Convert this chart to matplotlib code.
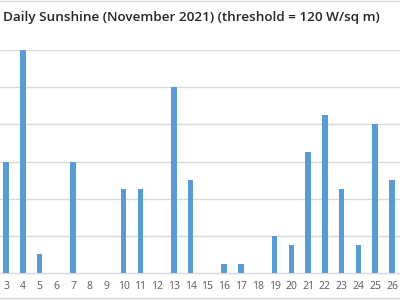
import matplotlib
matplotlib.use("Agg")
import matplotlib.pyplot as plt
from matplotlib.lines import Line2D

# Sunshine hours per day (days visible in the crop)
days = [3, 4, 5, 6, 7, 8, 9, 10, 11, 12, 13, 14, 15, 16, 17, 18, 19, 20, 21, 22, 23, 24, 25, 26]
hours = [3, 6, 0.5, 0, 3, 0, 0, 2.25, 2.25, 0, 5, 2.5, 0, 0.25, 0.25, 0, 1, 0.75, 3.25, 4.25, 2.25, 0.75, 4, 2.5]
labels = [str(d) for d in days]

title = "Daily Sunshine (November 2021) (threshold = 120 W/sq m)"

bar_color = "#5b9bd5"
grid_color = "#d9d9d9"
text_color = "#595959"

fig = plt.figure(figsize=(4, 3), dpi=100)
ax = fig.add_axes([0, 27 / 300, 1, 223 / 300])

ax.bar(days, hours, width=0.32, color=bar_color, zorder=3)

ax.set_xlim(2.64, 26.48)
ax.set_ylim(0, 6)
ax.set_yticks(range(1, 7))
ax.yaxis.grid(True, color=grid_color, linewidth=1)
ax.tick_params(axis="y", left=False, labelleft=False)
ax.set_xticks(days)
ax.set_xticklabels(labels, fontsize=7.5, color=text_color, family="Open Sans")
ax.tick_params(axis="x", length=0, pad=6)

for side in ["top", "left", "right"]:
    ax.spines[side].set_visible(False)
ax.spines["bottom"].set_color(grid_color)
ax.spines["bottom"].set_linewidth(1)

fig.text(0.479, 1 - 17 / 300, title, ha="center", va="center",
         fontsize=9.7, fontweight="semibold", family="Open Sans", color="#262626")

# light border lines of the chart area
fig.add_artist(Line2D([0, 1], [1 - 1 / 300, 1 - 1 / 300], color=grid_color, linewidth=1))
fig.add_artist(Line2D([0, 1], [2 / 300, 2 / 300], color=grid_color, linewidth=1))

fig.savefig("out.png", dpi=100)
